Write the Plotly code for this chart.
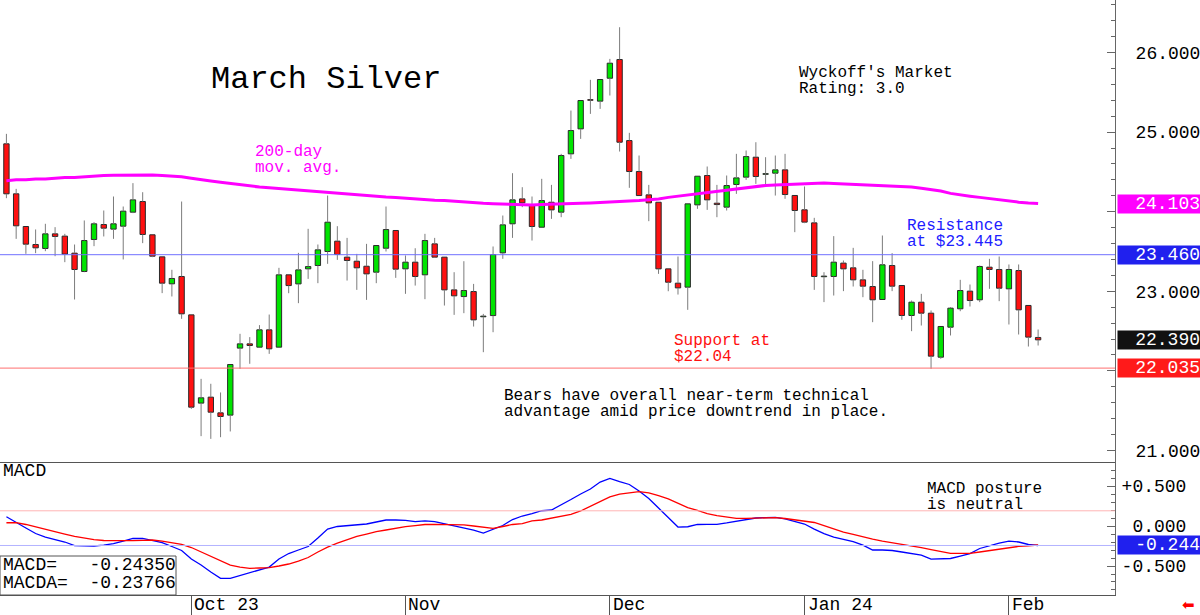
import plotly.graph_objects as go

# ---------------- data ----------------
opens = [24.853, 24.225, 23.814, 23.588, 23.538, 23.722, 23.693, 23.479, 23.249, 23.651,
         23.839, 23.781, 23.818, 23.994, 24.128, 23.710, 23.433, 23.094, 23.186, 22.704,
         21.595, 21.670, 21.473, 21.444, 22.286, 22.340, 22.298, 22.516, 22.298, 23.207,
         23.093, 23.282, 23.324, 23.500, 23.630, 23.429, 23.378, 23.315, 23.240, 23.541,
         23.764, 23.282, 23.366, 23.207, 23.596, 23.429, 23.018, 22.934, 22.997, 22.680,
         22.695, 23.483, 23.848, 24.161, 24.086, 23.805, 24.119, 23.994, 24.727, 25.041,
         25.407, 25.389, 25.677, 25.912, 24.894, 24.505, 24.212, 24.119, 23.282, 23.102,
         23.052, 24.086, 24.455, 24.107, 24.057, 24.342, 24.434, 24.685, 24.470, 24.484,
         24.526, 24.204, 24.024, 23.860, 23.183, 23.186, 23.354, 23.295, 23.144, 23.060,
         22.897, 23.324, 23.073, 22.696, 22.863, 22.725, 22.172, 22.549, 22.780, 23.002,
         22.893, 23.303, 23.274, 23.031, 23.261, 22.822, 22.420]
highs = [24.978, 24.287, 23.814, 23.777, 23.848, 23.806, 23.722, 23.588, 23.890, 23.869,
         24.015, 24.191, 24.065, 24.359, 24.245, 23.710, 23.433, 23.270, 24.128, 22.704,
         21.900, 21.838, 21.729, 22.080, 22.466, 22.424, 22.575, 22.708, 23.295, 23.207,
         23.483, 23.785, 23.588, 24.203, 23.818, 23.671, 23.470, 23.596, 23.575, 24.065,
         23.764, 23.450, 23.541, 23.722, 23.671, 23.429, 23.240, 23.378, 23.093, 22.716,
         23.563, 23.952, 24.484, 24.308, 24.191, 24.413, 24.337, 24.727, 25.271, 25.397,
         25.657, 25.661, 25.920, 26.318, 24.991, 24.706, 24.337, 24.119, 23.282, 23.437,
         24.099, 24.446, 24.568, 24.337, 24.455, 24.727, 24.769, 24.873, 24.685, 24.706,
         24.727, 24.204, 24.317, 23.923, 23.240, 23.693, 23.387, 23.546, 23.270, 23.379,
         23.701, 23.479, 23.073, 22.884, 22.968, 22.759, 22.558, 22.801, 23.144, 23.085,
         23.324, 23.408, 23.437, 23.337, 23.337, 22.822, 22.520]
lows = [24.170, 23.659, 23.471, 23.479, 23.504, 23.441, 23.366, 22.897, 23.240, 23.567,
        23.689, 23.659, 23.400, 23.982, 23.605, 23.429, 22.977, 22.935, 22.654, 21.523,
        21.180, 21.146, 21.167, 21.239, 22.026, 22.089, 22.298, 22.214, 22.298, 22.976,
        22.851, 23.156, 23.102, 23.345, 23.395, 23.135, 23.018, 22.892, 23.102, 23.500,
        23.169, 22.968, 23.072, 22.901, 23.420, 22.821, 22.704, 22.725, 22.557, 22.235,
        22.486, 23.408, 23.671, 24.057, 23.638, 23.805, 23.910, 23.931, 24.664, 24.915,
        25.229, 25.292, 25.460, 24.756, 24.300, 24.203, 23.881, 23.219, 23.001, 22.959,
        22.767, 24.036, 24.023, 23.931, 24.015, 24.224, 24.400, 24.350, 24.321, 24.203,
        24.162, 23.743, 23.856, 23.018, 22.864, 22.947, 23.002, 23.060, 22.926, 22.612,
        22.897, 23.002, 22.642, 22.499, 22.570, 22.026, 22.152, 22.445, 22.750, 22.809,
        22.864, 23.031, 22.876, 22.583, 22.457, 22.306, 22.319]
closes = [24.225, 23.823, 23.592, 23.546, 23.722, 23.689, 23.467, 23.274, 23.638, 23.848,
          23.793, 23.848, 24.007, 24.149, 23.714, 23.441, 23.102, 23.161, 22.717, 21.544,
          21.662, 21.481, 21.427, 22.080, 22.340, 22.319, 22.516, 22.277, 23.207, 23.072,
          23.269, 23.311, 23.521, 23.868, 23.462, 23.387, 23.295, 23.219, 23.575, 23.776,
          23.278, 23.366, 23.186, 23.638, 23.429, 23.018, 22.943, 23.010, 22.641, 22.686,
          23.462, 23.835, 24.149, 24.111, 23.814, 24.140, 24.023, 24.706, 25.020, 25.397,
          25.400, 25.661, 25.866, 24.873, 24.505, 24.203, 24.111, 23.282, 23.114, 23.043,
          24.099, 24.446, 24.149, 24.090, 24.329, 24.425, 24.693, 24.442, 24.476, 24.526,
          24.216, 24.015, 23.869, 23.186, 23.190, 23.366, 23.282, 23.144, 23.064, 22.893,
          23.333, 23.064, 22.696, 22.863, 22.725, 22.185, 22.558, 22.788, 23.010, 22.884,
          23.312, 23.274, 23.039, 23.274, 22.767, 22.424, 22.390]
ma200 = [24.39, 24.40, 24.40, 24.41, 24.41, 24.42, 24.43, 24.43, 24.44, 24.45,
         24.455, 24.457, 24.46, 24.46, 24.46, 24.46, 24.455, 24.45, 24.44, 24.42,
         24.40, 24.385, 24.37, 24.355, 24.34, 24.32, 24.31, 24.30, 24.29, 24.28,
         24.27, 24.26, 24.25, 24.24, 24.23, 24.22, 24.21, 24.20, 24.19, 24.185,
         24.18, 24.17, 24.16, 24.155, 24.145, 24.14, 24.13, 24.12, 24.11, 24.105,
         24.10, 24.095, 24.09, 24.085, 24.085, 24.09, 24.092, 24.095, 24.10, 24.105,
         24.11, 24.115, 24.12, 24.125, 24.13, 24.14, 24.15, 24.16, 24.18, 24.195,
         24.21, 24.225, 24.24, 24.255, 24.27, 24.29, 24.30, 24.315, 24.33, 24.335,
         24.34, 24.35, 24.355, 24.36, 24.36, 24.355, 24.35, 24.345, 24.34, 24.335,
         24.33, 24.325, 24.315, 24.31, 24.295, 24.28, 24.26, 24.23, 24.21, 24.195,
         24.18, 24.165, 24.15, 24.13, 24.12, 24.11, 24.103]
macd = [0.116, 0.050, -0.025, -0.094, -0.138, -0.169, -0.200, -0.244, -0.250, -0.250,
        -0.238, -0.219, -0.188, -0.154, -0.156, -0.181, -0.209, -0.256, -0.306, -0.413,
        -0.488, -0.575, -0.654, -0.654, -0.619, -0.581, -0.544, -0.513, -0.413, -0.344,
        -0.300, -0.256, -0.150, -0.038, -0.006, 0.006, 0.019, 0.025, 0.050, 0.075,
        0.075, 0.071, 0.056, 0.063, 0.056, 0.031, 0.006, -0.019, -0.050, -0.088,
        -0.044, 0.006, 0.081, 0.125, 0.156, 0.191, 0.200, 0.263, 0.331, 0.400,
        0.463, 0.550, 0.596, 0.556, 0.519, 0.438, 0.344, 0.225, 0.106, -0.013,
        -0.009, 0.019, 0.021, 0.021, 0.038, 0.056, 0.081, 0.100, 0.106, 0.109,
        0.088, 0.056, 0.025, -0.038, -0.094, -0.138, -0.169, -0.194, -0.238, -0.300,
        -0.300, -0.306, -0.325, -0.344, -0.363, -0.413, -0.413, -0.406, -0.375, -0.344,
        -0.281, -0.244, -0.213, -0.188, -0.200, -0.231, -0.24350]
macd_signal = [0.041, 0.041, 0.019, -0.013, -0.044, -0.069, -0.100, -0.131, -0.154, -0.169,
               -0.181, -0.184, -0.184, -0.183, -0.179, -0.175, -0.188, -0.206, -0.229, -0.269,
               -0.325, -0.381, -0.438, -0.488, -0.513, -0.529, -0.525, -0.521, -0.500, -0.475,
               -0.438, -0.394, -0.325, -0.263, -0.213, -0.169, -0.131, -0.100, -0.069, -0.050,
               -0.025, -0.009, 0.006, 0.019, 0.021, 0.021, 0.021, 0.013, 0.000, -0.019,
               -0.029, -0.006, 0.019, 0.031, 0.063, 0.075, 0.100, 0.125, 0.146, 0.188,
               0.244, 0.300, 0.363, 0.400, 0.419, 0.429, 0.413, 0.381, 0.338, 0.281,
               0.231, 0.194, 0.156, 0.131, 0.113, 0.096, 0.096, 0.100, 0.104, 0.104,
               0.094, 0.075, 0.056, 0.044, 0.006, -0.038, -0.075, -0.106, -0.138, -0.163,
               -0.188, -0.206, -0.231, -0.250, -0.269, -0.294, -0.319, -0.341, -0.341, -0.341,
               -0.325, -0.306, -0.288, -0.265, -0.255, -0.247, -0.23766]
month_index = [19, 41, 62, 82, 103]
month_labels = ["Oct 23", "Nov", "Dec", "Jan 24", "Feb"]
price_ticks = [21, 22, 23, 24, 25, 26]
# 22.000 and 24.000 sit under the value boxes in the reference, so they are left blank
price_tick_labels = ["21.000", "", "23.000", "", "25.000", "26.000"]
macd_ticks = [0.5, 0.0, -0.5]
macd_tick_labels = ["+0.500", "\u00a00.000", "-0.500"]
resistance_level = 23.46
support_level = 22.035
macd_upper_ref = 0.19
last_close = 22.390
last_ma = 24.103
last_macd_label = -0.244

MONO = "Liberation Mono"
GREEN = "#00e400"
RED = "#ff1010"

idx = list(range(len(opens)))

fig = go.Figure()

# candle bodies
bases = [min(o, c) for o, c in zip(opens, closes)]
heights = [max(abs(c - o), 0.008) for o, c in zip(opens, closes)]
colors = [GREEN if c >= o else RED for o, c in zip(opens, closes)]
fig.add_trace(go.Bar(x=idx, y=heights, base=bases, width=0.55,
                     marker=dict(color=colors, line=dict(color="#2a2a2a", width=1)),
                     xaxis="x", yaxis="y", hoverinfo="skip"))

# wicks (upper and lower segments so they stay outside bodies)
wx, wy = [], []
for i, (o, h, l, c) in enumerate(zip(opens, highs, lows, closes)):
    wx += [i, i, None, i, i, None]
    wy += [h, max(o, c), None, min(o, c), l, None]
fig.add_trace(go.Scatter(x=wx, y=wy, mode="lines", line=dict(color="#7c7c7c", width=1),
                         xaxis="x", yaxis="y", hoverinfo="skip"))

# 200-day moving average
fig.add_trace(go.Scatter(x=idx, y=ma200, mode="lines", line=dict(color="#ff00ff", width=3),
                         xaxis="x", yaxis="y"))

# MACD panel
fig.add_trace(go.Scatter(x=idx, y=macd, mode="lines", line=dict(color="#0000ff", width=1.3),
                         xaxis="x2", yaxis="y2"))
fig.add_trace(go.Scatter(x=idx, y=macd_signal, mode="lines", line=dict(color="#ff0000", width=1.3),
                         xaxis="x2", yaxis="y2"))

W_PLOT = 1115.0
H_PLOT = 595.0
def px(x):
    return x / W_PLOT
def py(y):
    return 1 - y / H_PLOT

shapes = [
    dict(type="line", xref="paper", x0=0, x1=1, yref="y", y0=resistance_level, y1=resistance_level,
         line=dict(color="#7070ff", width=1)),
    dict(type="line", xref="paper", x0=0, x1=1, yref="y", y0=support_level, y1=support_level,
         line=dict(color="#ff7070", width=1)),
    dict(type="line", xref="paper", x0=0, x1=1, yref="y2", y0=macd_upper_ref, y1=macd_upper_ref,
         line=dict(color="#ffb4b4", width=1)),
    dict(type="line", xref="paper", x0=0, x1=1, yref="y2", y0=macd[-1], y1=macd[-1],
         line=dict(color="#b4b4ff", width=1)),
    dict(type="rect", xref="paper", x0=0, x1=px(176), yref="paper", y0=0, y1=py(556),
         line=dict(color="#555555", width=1), fillcolor="white", layer="above"),
]

ann = []
def text(x, y, s, size=16, color="black"):
    ann.append(dict(x=px(x), y=py(y), xref="paper", yref="paper", text=s, showarrow=False,
                    xanchor="left", yanchor="middle", font=dict(family=MONO, size=size, color=color)))

text(209, 80, "March Silver", size=32)
text(797, 73, "Wyckoff's Market")
text(797, 89, "Rating: 3.0")
text(253, 152, "200-day", color="#ff00ff")
text(253, 168, "mov. avg.", color="#ff00ff")
text(905, 226, "Resistance", color="#2020ff")
text(905, 242, "at $23.445", color="#2020ff")
text(672, 341, "Support at", color="#ff1010")
text(672, 357, "$22.04", color="#ff1010")
text(502, 396, "Bears have overall near-term technical")
text(502, 412, "advantage amid price downtrend in place.")
text(925, 489, "MACD posture")
text(925, 505, "is neutral")
text(1, 471, "MACD", size=18)
text(1, 565, "MACD=   %.5f" % macd[-1], size=18)
text(1, 583, "MACDA=  %.5f" % macd_signal[-1], size=18)

# month labels
for mi, ml in zip(month_index, month_labels):
    ann.append(dict(x=mi, xref="x2", y=py(605), yref="paper", text=ml, showarrow=False,
                    xanchor="left", yanchor="middle", xshift=1,
                    font=dict(family=MONO, size=18, color="black")))

# value boxes on the right axis
def vbox(val, yref, label, bg):
    ann.append(dict(x=1, xref="paper", y=val, yref=yref, text=label, showarrow=False,
                    xanchor="left", yanchor="middle", xshift=2, width=82, height=18,
                    align="right", borderpad=0, bgcolor=bg,
                    font=dict(family=MONO, size=18, color="white")))

vbox(last_ma, "y", "%.3f" % last_ma, "#ff00ff")
vbox(resistance_level, "y", "%.3f" % resistance_level, "#2020ee")
vbox(last_close, "y", "%.3f" % last_close, "#111111")
vbox(support_level, "y", "%.3f" % support_level, "#ff1a1a")
vbox(macd[-1], "y2", "%.3f" % last_macd_label, "#2020ee")

ann.append(dict(x=px(1188), y=py(605), xref="paper", yref="paper", text="\u2b05", showarrow=False,
                xanchor="center", yanchor="middle", font=dict(family="DejaVu Sans", size=15, color="#ff0000")))

x_range = [-0.66, 113.9]
fig.update_layout(
    width=1200, height=615,
    margin=dict(l=0, r=85, t=0, b=20),
    paper_bgcolor="white", plot_bgcolor="white",
    showlegend=False, barmode="overlay",
    shapes=shapes, annotations=ann,
    xaxis=dict(domain=[0, 1], range=x_range, anchor="y", showticklabels=False, showgrid=False,
               zeroline=False, showline=True, linecolor="#555555", linewidth=1, ticks=""),
    xaxis2=dict(domain=[0, 1], range=x_range, anchor="y2", matches="x", showticklabels=False,
                showgrid=False, zeroline=False, showline=True, linecolor="#555555", linewidth=1,
                ticks="outside", ticklen=20, tickcolor="#555555", tickvals=month_index),
    yaxis=dict(domain=[0.2235, 1], range=[20.855, 26.66], anchor="x", side="right",
               tickvals=price_ticks, ticktext=price_tick_labels, ticks="inside", ticklen=8,
               tickcolor="#666666", showline=True, linecolor="#666666", showgrid=False,
               zeroline=False, ticklabelstandoff=16,
               tickfont=dict(family=MONO, size=18, color="black"),
               minor=dict(dtick=0.2, ticks="inside", ticklen=4, tickcolor="#666666", showgrid=False)),
    yaxis2=dict(domain=[0, 0.2235], range=[-0.8625, 0.8], anchor="x2", side="right",
                tickvals=macd_ticks, ticktext=macd_tick_labels, ticks="inside", ticklen=8,
                tickcolor="#666666", showline=True, linecolor="#666666", showgrid=False,
                zeroline=False, ticklabelstandoff=2,
                tickfont=dict(family=MONO, size=18, color="black"),
                minor=dict(dtick=0.1, ticks="inside", ticklen=4, tickcolor="#666666", showgrid=False)),
)

fig.write_html("out.html")
